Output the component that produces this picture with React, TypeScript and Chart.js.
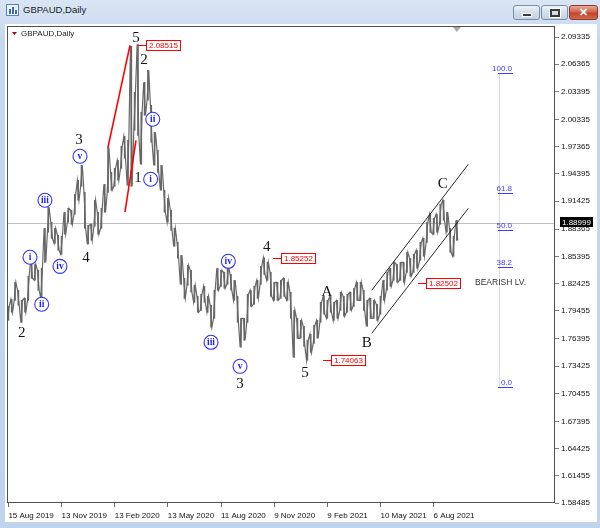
import React, { useEffect, useRef } from "react";
import { Chart, registerables } from "chart.js";

Chart.register(...registerables);

// ---- data (sampled every 4 daily bars, starting 15 Aug 2019) ----
const SAMPLE_STEP = 4;
const highs = [
  1.7995, 1.8071, 1.8257, 1.817, 1.806, 1.8082, 1.8322, 1.8519, 1.8453, 1.8388,
  1.841, 1.8846, 1.9075, 1.8912, 1.8846, 1.877, 1.8759, 1.9021, 1.9064, 1.9043,
  1.9217, 1.937, 1.9534, 1.9239, 1.8879, 1.889, 1.9152, 1.9021, 1.9064, 1.9326,
  1.973, 1.9457, 1.9501, 1.9588, 1.9741, 1.985, 1.9806, 2.0832, 2.033, 2.08515,
  2.0112, 2.0439, 2.057, 2.0188, 1.9894, 1.9697, 1.9534, 1.9261, 1.9174, 1.9043,
  1.8846, 1.8693, 1.8551, 1.8301, 1.8442, 1.8388, 1.8224, 1.8104, 1.8126, 1.8213,
  1.8104, 1.8006, 1.817, 1.841, 1.8388, 1.8366, 1.8431, 1.8344, 1.8279, 1.8104,
  1.7864, 1.7864, 1.8126, 1.817, 1.8213, 1.8279, 1.8431, 1.85252, 1.8475, 1.8366,
  1.8257, 1.8257, 1.8279, 1.8301, 1.8257, 1.8148, 1.7951, 1.7864, 1.7842, 1.7777,
  1.7624, 1.7689, 1.7788, 1.7842, 1.8039, 1.8104, 1.806, 1.8104, 1.8039, 1.806,
  1.8148, 1.8104, 1.8126, 1.8148, 1.8191, 1.8257, 1.8257, 1.817, 1.806, 1.8082,
  1.806, 1.8017, 1.8104, 1.8279, 1.8366, 1.841, 1.8475, 1.8453, 1.8475, 1.8475,
  1.8584, 1.8519, 1.8562, 1.8606, 1.8693, 1.8737, 1.8912, 1.8999, 1.8955, 1.8999,
  1.9108, 1.9152, 1.9021, 1.8846, 1.8759, 1.8934,
];
const lows = [
  1.7842, 1.793, 1.806, 1.8006, 1.782, 1.793, 1.806, 1.8301, 1.8279, 1.817,
  1.8082, 1.8475, 1.8803, 1.8737, 1.8682, 1.8606, 1.8562, 1.8781, 1.8912, 1.889,
  1.8999, 1.9152, 1.9304, 1.8846, 1.8672, 1.8715, 1.8868, 1.8781, 1.8846, 1.9021,
  1.9239, 1.9261, 1.9304, 1.937, 1.9501, 1.961, 1.9315, 1.9304, 1.9916, 1.9861,
  1.9545, 2.0079, 2.0243, 1.9785, 1.9534, 1.9457, 1.9261, 1.9021, 1.8912, 1.8824,
  1.865, 1.8519, 1.8235, 1.8082, 1.8224, 1.8148, 1.8039, 1.793, 1.7951, 1.8039,
  1.793, 1.7766, 1.7864, 1.817, 1.8213, 1.8191, 1.8235, 1.817, 1.806, 1.782,
  1.7548, 1.7624, 1.782, 1.7995, 1.8017, 1.8082, 1.8235, 1.8344, 1.8279, 1.8104,
  1.806, 1.806, 1.8082, 1.8104, 1.806, 1.7864, 1.7438, 1.7646, 1.7646, 1.7558,
  1.74063, 1.7493, 1.7591, 1.7646, 1.782, 1.7908, 1.7864, 1.793, 1.7842, 1.7864,
  1.7951, 1.7886, 1.793, 1.7951, 1.7995, 1.806, 1.806, 1.7951, 1.7777, 1.7864,
  1.7864, 1.7842, 1.7908, 1.806, 1.817, 1.8213, 1.8279, 1.8257, 1.8279, 1.8257,
  1.8366, 1.8322, 1.8366, 1.841, 1.8497, 1.8541, 1.8693, 1.8803, 1.8781, 1.8803,
  1.889, 1.8934, 1.8803, 1.8584, 1.8541, 1.8715,
];
const LAST_PRICE = 1.88999;

const yTickValues = [
  2.09335, 2.06365, 2.03395, 2.00335, 1.97365, 1.94395, 1.91425, 1.88365, 1.85395,
  1.82425, 1.79455, 1.76395, 1.73425, 1.70455, 1.67395, 1.64425, 1.61455, 1.58485,
];
const xTickBars = [0, 64, 128, 192, 256, 320, 384, 448, 512];
const xTickLabels = [
  "15 Aug 2019", "13 Nov 2019", "13 Feb 2020", "13 May 2020", "11 Aug 2020",
  "9 Nov 2020", "9 Feb 2021", "10 May 2021", "6 Aug 2021",
];

// ---- annotations (bar index, price) ----
const waveLabels = [
  { text: "2", bar: 16, price: 1.77 },
  { text: "3", bar: 85, price: 1.9806 },
  { text: "4", bar: 93.4, price: 1.8519 },
  { text: "5", bar: 153.6, price: 2.0919 },
  { text: "1", bar: 156, price: 1.9392 },
  { text: "2", bar: 163.3, price: 2.0679 },
  { text: "3", bar: 278.9, price: 1.7144 },
  { text: "4", bar: 311, price: 1.8639 },
  { text: "5", bar: 357, price: 1.7264 },
  { text: "A", bar: 383.6, price: 1.8148 },
  { text: "B", bar: 431.4, price: 1.7591 },
  { text: "C", bar: 523, price: 1.9326 },
];
const subWaveLabels = [
  { text: "i", bar: 26, price: 1.853 },
  { text: "ii", bar: 40.1, price: 1.8017 },
  { text: "iii", bar: 44, price: 1.9152 },
  { text: "iv", bar: 62.1, price: 1.8431 },
  { text: "v", bar: 86.2, price: 1.9632 },
  { text: "i", bar: 171.3, price: 1.9381 },
  { text: "ii", bar: 173.8, price: 2.0036 },
  { text: "iii", bar: 244, price: 1.7602 },
  { text: "iv", bar: 264.8, price: 1.8486 },
  { text: "v", bar: 278.9, price: 1.734 },
];
const priceTags = [
  { value: 2.08515, bar: 156 },
  { value: 1.85252, bar: 318.6 },
  { value: 1.74063, bar: 378.8 },
  { value: 1.82502, bar: 493.2 },
];
const redLines = [
  { b0: 119.9, p0: 1.973, b1: 146.4, p1: 2.0843 },
  { b0: 140.4, p0: 1.9024, b1: 153.6, p1: 1.9806 },
];
const channelLines = [
  { b0: 437.5, p0: 1.817, b1: 553.8, p1: 1.9545 },
  { b0: 437.5, p0: 1.77, b1: 553.8, p1: 1.9064 },
];
const FIB_LOW = 1.7114;
const FIB_HIGH = 2.0538;
const fibLevels = [0, 38.2, 50, 61.8, 100];
const FIB_BAR0 = 589.5;
const FIB_BAR1 = 607.6;
const FIB_VBAR = 590.5;
const note = { text: "BEARISH LV.", bar: 561.8, price: 1.8257 };
const SHIFT_BAR = 540;

const X_MIN = -1.686;
const X_MAX = 658.15;
const Y_MIN = 1.58485;
const Y_MAX = 2.10537;

const SANS = '"Liberation Sans", Arial, sans-serif';
const SERIF = '"Liberation Serif", "Times New Roman", serif';

// price path: each sample drawn as a low->high (or high->low) stroke, chained
const pricePath = highs.flatMap((h, i) => {
  const b = i * SAMPLE_STEP;
  return i % 2 === 0
    ? [{ x: b - 1, y: lows[i] }, { x: b + 1, y: h }]
    : [{ x: b - 1, y: h }, { x: b + 1, y: lows[i] }];
});

const overlay = {
  id: "overlay",
  beforeDatasetsDraw(chart: any) {
    const { ctx, chartArea: a, scales } = chart;
    const X = (v: number) => scales.x.getPixelForValue(v);
    const Y = (v: number) => scales.y.getPixelForValue(v);
    ctx.save();
    ctx.lineWidth = 1;
    const fx = Math.round(X(FIB_VBAR)) + 0.5;
    ctx.strokeStyle = "#d6d6fa";
    ctx.beginPath();
    ctx.moveTo(fx, Y(FIB_HIGH));
    ctx.lineTo(fx, Y(FIB_LOW));
    ctx.stroke();
    const cy = Math.round(Y(LAST_PRICE)) + 0.5;
    ctx.strokeStyle = "#c0c0c0";
    ctx.beginPath();
    ctx.moveTo(a.left, cy);
    ctx.lineTo(a.right, cy);
    ctx.stroke();
    ctx.restore();
  },
  afterDatasetsDraw(chart: any) {
    const { ctx, chartArea: a, scales } = chart;
    const X = (v: number) => scales.x.getPixelForValue(v);
    const Y = (v: number) => scales.y.getPixelForValue(v);
    ctx.save();

    ctx.strokeStyle = "#ff0000";
    ctx.lineWidth = 1.6;
    for (const l of redLines) {
      ctx.beginPath();
      ctx.moveTo(X(l.b0), Y(l.p0));
      ctx.lineTo(X(l.b1), Y(l.p1));
      ctx.stroke();
    }
    ctx.strokeStyle = "#111";
    ctx.lineWidth = 0.9;
    for (const l of channelLines) {
      ctx.beginPath();
      ctx.moveTo(X(l.b0), Y(l.p0));
      ctx.lineTo(X(l.b1), Y(l.p1));
      ctx.stroke();
    }

    ctx.lineWidth = 1;
    ctx.strokeStyle = "#3c3cff";
    ctx.fillStyle = "#3c3cff";
    ctx.font = `8px ${SANS}`;
    ctx.textAlign = "right";
    ctx.textBaseline = "bottom";
    for (const lvl of fibLevels) {
      const yy = Math.round(Y(FIB_LOW + ((FIB_HIGH - FIB_LOW) * lvl) / 100)) + 0.5;
      ctx.beginPath();
      ctx.moveTo(X(FIB_BAR0), yy);
      ctx.lineTo(X(FIB_BAR1), yy);
      ctx.stroke();
      ctx.fillText(lvl.toFixed(1), X(FIB_BAR1) - 1, yy - 1);
    }

    ctx.fillStyle = "#151515";
    ctx.font = `15px ${SERIF}`;
    ctx.textAlign = "center";
    ctx.textBaseline = "middle";
    for (const w of waveLabels) ctx.fillText(w.text, X(w.bar), Y(w.price));

    for (const w of subWaveLabels) {
      const cx = X(w.bar);
      const cy = Y(w.price);
      ctx.beginPath();
      ctx.arc(cx, cy, 7, 0, Math.PI * 2);
      ctx.fillStyle = "#ffffff";
      ctx.fill();
      ctx.strokeStyle = "#2f2fff";
      ctx.lineWidth = 1.1;
      ctx.stroke();
      ctx.fillStyle = "#2020ff";
      ctx.font = `bold 9.5px ${SERIF}`;
      ctx.fillText(w.text, cx, cy + 0.5);
    }

    ctx.font = `8px ${SANS}`;
    for (const t of priceTags) {
      const yy = Math.round(Y(t.value)) + 0.5;
      const x0 = Math.round(X(t.bar));
      const txt = t.value.toFixed(5);
      const w = Math.ceil(ctx.measureText(txt).width) + 5;
      ctx.strokeStyle = "#ff0000";
      ctx.lineWidth = 1;
      ctx.beginPath();
      ctx.moveTo(x0, yy);
      ctx.lineTo(x0 + 8, yy);
      ctx.stroke();
      ctx.fillStyle = "#ffffff";
      ctx.fillRect(x0 + 8.5, yy - 5, w, 10);
      ctx.strokeRect(x0 + 8.5, yy - 5, w, 10);
      ctx.fillStyle = "#ff0000";
      ctx.textAlign = "left";
      ctx.fillText(txt, x0 + 11, yy + 0.5);
    }

    ctx.fillStyle = "#333";
    ctx.font = `8.5px ${SANS}`;
    ctx.textAlign = "left";
    ctx.fillText(note.text, X(note.bar), Y(note.price));

    ctx.fillStyle = "#c00000";
    ctx.beginPath();
    ctx.moveTo(a.left + 5, a.top + 6);
    ctx.lineTo(a.left + 10, a.top + 6);
    ctx.lineTo(a.left + 7.5, a.top + 9);
    ctx.closePath();
    ctx.fill();
    ctx.fillStyle = "#222";
    ctx.font = `8px ${SANS}`;
    ctx.fillText("GBPAUD,Daily", a.left + 14, a.top + 8);

    const sx = X(SHIFT_BAR);
    ctx.fillStyle = "#a8a8a8";
    ctx.beginPath();
    ctx.moveTo(sx - 4, a.top + 1);
    ctx.lineTo(sx + 4, a.top + 1);
    ctx.lineTo(sx, a.top + 6);
    ctx.closePath();
    ctx.fill();
    ctx.restore();
  },
  afterDraw(chart: any) {
    const { ctx, chartArea: a, scales } = chart;
    ctx.save();
    ctx.strokeStyle = "#505050";
    ctx.lineWidth = 1;
    ctx.strokeRect(a.left + 0.5, a.top + 0.5, a.right - a.left - 1, a.bottom - a.top - 1);
    const cy = Math.round(scales.y.getPixelForValue(LAST_PRICE));
    ctx.fillStyle = "#000";
    ctx.fillRect(a.right + 5, cy - 6, 33, 10);
    ctx.fillStyle = "#fff";
    ctx.font = `8px ${SANS}`;
    ctx.textAlign = "left";
    ctx.textBaseline = "middle";
    ctx.fillText(LAST_PRICE.toFixed(5), a.right + 7, cy - 0.5);
    ctx.restore();
  },
};

export default function App() {
  const ref = useRef<HTMLCanvasElement>(null);
  useEffect(() => {
    if (!ref.current) return;
    const chart = new Chart(ref.current, {
      type: "bar",
      data: {
        datasets: [
          {
            type: "line",
            data: pricePath as any,
            borderColor: "#686868",
            borderWidth: 1.2,
            pointRadius: 0,
            tension: 0,
            fill: false,
          } as any,
          {
            data: highs.map((h, i) => ({ x: i * SAMPLE_STEP, y: [lows[i], h] })) as any,
            backgroundColor: "#666666",
            borderWidth: 0,
            barThickness: 1,
          },
        ],
      },
      options: {
        animation: false,
        responsive: false,
        devicePixelRatio: 1,
        layout: { padding: { left: 2, top: 2, right: 0, bottom: 0 } },
        plugins: { legend: { display: false }, tooltip: { enabled: false } },
        scales: {
          x: {
            type: "linear",
            min: X_MIN,
            max: X_MAX,
            offset: false,
            afterBuildTicks: (s: any) => {
              s.ticks = xTickBars.map((v) => ({ value: v }));
            },
            afterFit: (s: any) => {
              s.height = 19;
              s.paddingLeft = 0;
              s.paddingRight = 0;
            },
            ticks: {
              autoSkip: false,
              maxRotation: 0,
              minRotation: 0,
              align: "start",
              padding: 4,
              color: "#111",
              font: { family: SANS, size: 8 },
              callback: (_v: any, i: number) => xTickLabels[i],
            },
            grid: { drawOnChartArea: false, drawTicks: true, tickLength: 4, color: "#707070", offset: false },
            border: { display: false },
          },
          y: {
            type: "linear",
            position: "right",
            min: Y_MIN,
            max: Y_MAX,
            afterBuildTicks: (s: any) => {
              s.ticks = yTickValues.map((v) => ({ value: v }));
            },
            afterFit: (s: any) => {
              s.width = 42;
              s.paddingTop = 0;
              s.paddingBottom = 0;
            },
            ticks: {
              padding: 2,
              color: "#111",
              font: { family: SANS, size: 8 },
              callback: (v: any) => Number(v).toFixed(5),
            },
            grid: { drawOnChartArea: false, drawTicks: true, tickLength: 4, color: "#808080" },
            border: { display: false },
          },
        },
      } as any,
      plugins: [overlay],
    });
    return () => chart.destroy();
  }, []);

  const btn: React.CSSProperties = {
    position: "absolute",
    top: 5,
    height: 13,
    width: 25,
    borderRadius: 3,
    border: "1px solid #7a8ca6",
    background: "linear-gradient(#eef3fa, #d3deeb 50%, #c4d2e4)",
    boxSizing: "content-box",
  };

  return (
    <div
      style={{
        position: "absolute",
        left: 0,
        top: 0,
        width: 600,
        height: 528,
        overflow: "hidden",
        background: "linear-gradient(#d9e5f4, #c6d8ee 40px, #bfd3ec)",
        fontFamily: SANS,
      }}
    >
      <div
        style={{
          position: "absolute",
          left: 6,
          top: 4,
          width: 11,
          height: 10,
          border: "1px solid #5b83b8",
          background: "#eef4fb",
        }}
      >
        <div style={{ position: "absolute", left: 2, top: 4, width: 2, height: 5, background: "#3d6fb5" }} />
        <div style={{ position: "absolute", left: 5, top: 2, width: 2, height: 7, background: "#3d6fb5" }} />
        <div style={{ position: "absolute", left: 8, top: 5, width: 2, height: 4, background: "#3d6fb5" }} />
      </div>
      <div style={{ position: "absolute", left: 23, top: 4, fontSize: 9.5, color: "#1b1b1b", lineHeight: "12px" }}>
        GBPAUD,Daily
      </div>
      <div style={{ ...btn, left: 513 }}>
        <div
          style={{
            position: "absolute",
            left: 8,
            top: 7,
            width: 8,
            height: 2,
            background: "#3a3a3a",
            border: "1px solid #fff",
          }}
        />
      </div>
      <div style={{ ...btn, left: 541 }}>
        <div
          style={{
            position: "absolute",
            left: 8,
            top: 3,
            width: 6,
            height: 4,
            border: "2px solid #3a3a3a",
            outline: "1px solid #fff",
          }}
        />
      </div>
      <div
        style={{
          ...btn,
          left: 569,
          width: 27,
          border: "1px solid #8d3a2c",
          background: "linear-gradient(#e8a999, #d0654d 45%, #c4432a 55%, #d2694f)",
          color: "#fff",
          fontSize: 11,
          fontWeight: "bold",
          textAlign: "center",
          lineHeight: "13px",
        }}
      >
        ✕
      </div>
      <div style={{ position: "absolute", left: 5, top: 24, width: 592, height: 498, background: "#ffffff" }}>
        <canvas ref={ref} width={592} height={498} style={{ display: "block", width: 592, height: 498 }} />
      </div>
    </div>
  );
}
